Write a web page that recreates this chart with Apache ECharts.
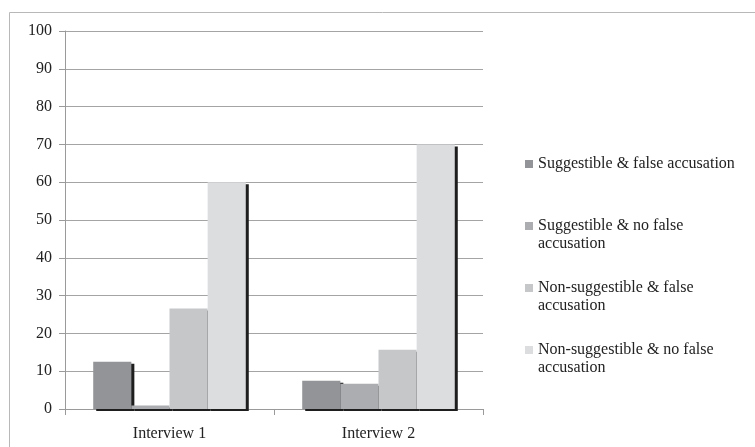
<!DOCTYPE html>
<html>
<head>
<meta charset="utf-8">
<script src="https://cdn.jsdelivr.net/npm/echarts@6/dist/echarts.min.js"></script>
<style>
  html, body { margin: 0; padding: 0; background: #fff; }
  #chart { width: 755px; height: 447px; }
</style>
</head>
<body>
<div id="chart"></div>
<script>
// Interview outcome percentages by group
const categories = ['Interview 1', 'Interview 2'];
const seriesNames = [
  'Suggestible & false accusation',
  'Suggestible & no false accusation',
  'Non-suggestible & false accusation',
  'Non-suggestible & no false accusation'
];
const suggestibleFalse = [12.5, 7.5];
const suggestibleNoFalse = [0.9, 6.7];
const nonSuggestibleFalse = [26.6, 15.7];
const nonSuggestibleNoFalse = [60, 70];
const yTicks = [0, 10, 20, 30, 40, 50, 60, 70, 80, 90, 100];

// Legend labels: a blank first line keeps the marker level with the first text line
const legendLines = {
  'Suggestible & false accusation': ' \nSuggestible & false accusation\n ',
  'Suggestible & no false accusation': ' \nSuggestible & no false\naccusation',
  'Non-suggestible & false accusation': ' \nNon-suggestible & false\naccusation',
  'Non-suggestible & no false accusation': ' \nNon-suggestible & no false\naccusation'
};

const colors = ['#939497', '#acadb0', '#c6c7c9', '#dcdddf'];
const values = [suggestibleFalse, suggestibleNoFalse, nonSuggestibleFalse, nonSuggestibleNoFalse];
const serif = "'Liberation Serif', 'Times New Roman', serif";

const chart = echarts.init(document.getElementById('chart'), null, { renderer: 'canvas' });

chart.setOption({
  backgroundColor: '#ffffff',
  animation: false,
  graphic: [{
    type: 'rect',
    silent: true,
    z: -10,
    shape: { x: 9.5, y: 12.5, width: 800, height: 500 },
    style: { fill: 'none', stroke: '#b8b8b8', lineWidth: 1 }
  }],
  grid: { left: 65, top: 31, right: 272, bottom: 38 },
  legend: {
    orient: 'vertical',
    left: 525,
    top: 137,
    padding: 0,
    itemGap: 8,
    itemWidth: 8,
    itemHeight: 8,
    icon: 'rect',
    data: seriesNames,
    formatter: name => legendLines[name],
    textStyle: {
      fontFamily: serif,
      fontSize: 16,
      color: '#222',
      lineHeight: 18
    }
  },
  xAxis: {
    type: 'category',
    data: categories,
    axisLine: { lineStyle: { color: '#9a9a9a', width: 1 } },
    axisTick: { show: true, length: 6, lineStyle: { color: '#9a9a9a' } },
    axisLabel: { fontFamily: serif, fontSize: 16, color: '#222', margin: 17 }
  },
  yAxis: {
    type: 'value',
    min: 0,
    max: 100,
    interval: 10,
    axisLine: { show: true, lineStyle: { color: '#9a9a9a', width: 1 } },
    axisTick: { show: true, length: 6, lineStyle: { color: '#9a9a9a' } },
    axisLabel: {
      fontFamily: serif, fontSize: 16, color: '#222', margin: 13,
      formatter: v => (yTicks.includes(v) ? String(v) : '')
    },
    splitLine: { lineStyle: { color: '#a4a4a4', width: 1 } }
  },
  series: seriesNames.map((name, i) => ({
    name,
    type: 'bar',
    data: values[i],
    barGap: '0%',
    barCategoryGap: '27%',
    itemStyle: {
      color: colors[i],
      shadowColor: '#1e1e1e',
      shadowBlur: 0,
      shadowOffsetX: 3,
      shadowOffsetY: 2
    },
    emphasis: { disabled: true }
  }))
});
</script>
</body>
</html>
